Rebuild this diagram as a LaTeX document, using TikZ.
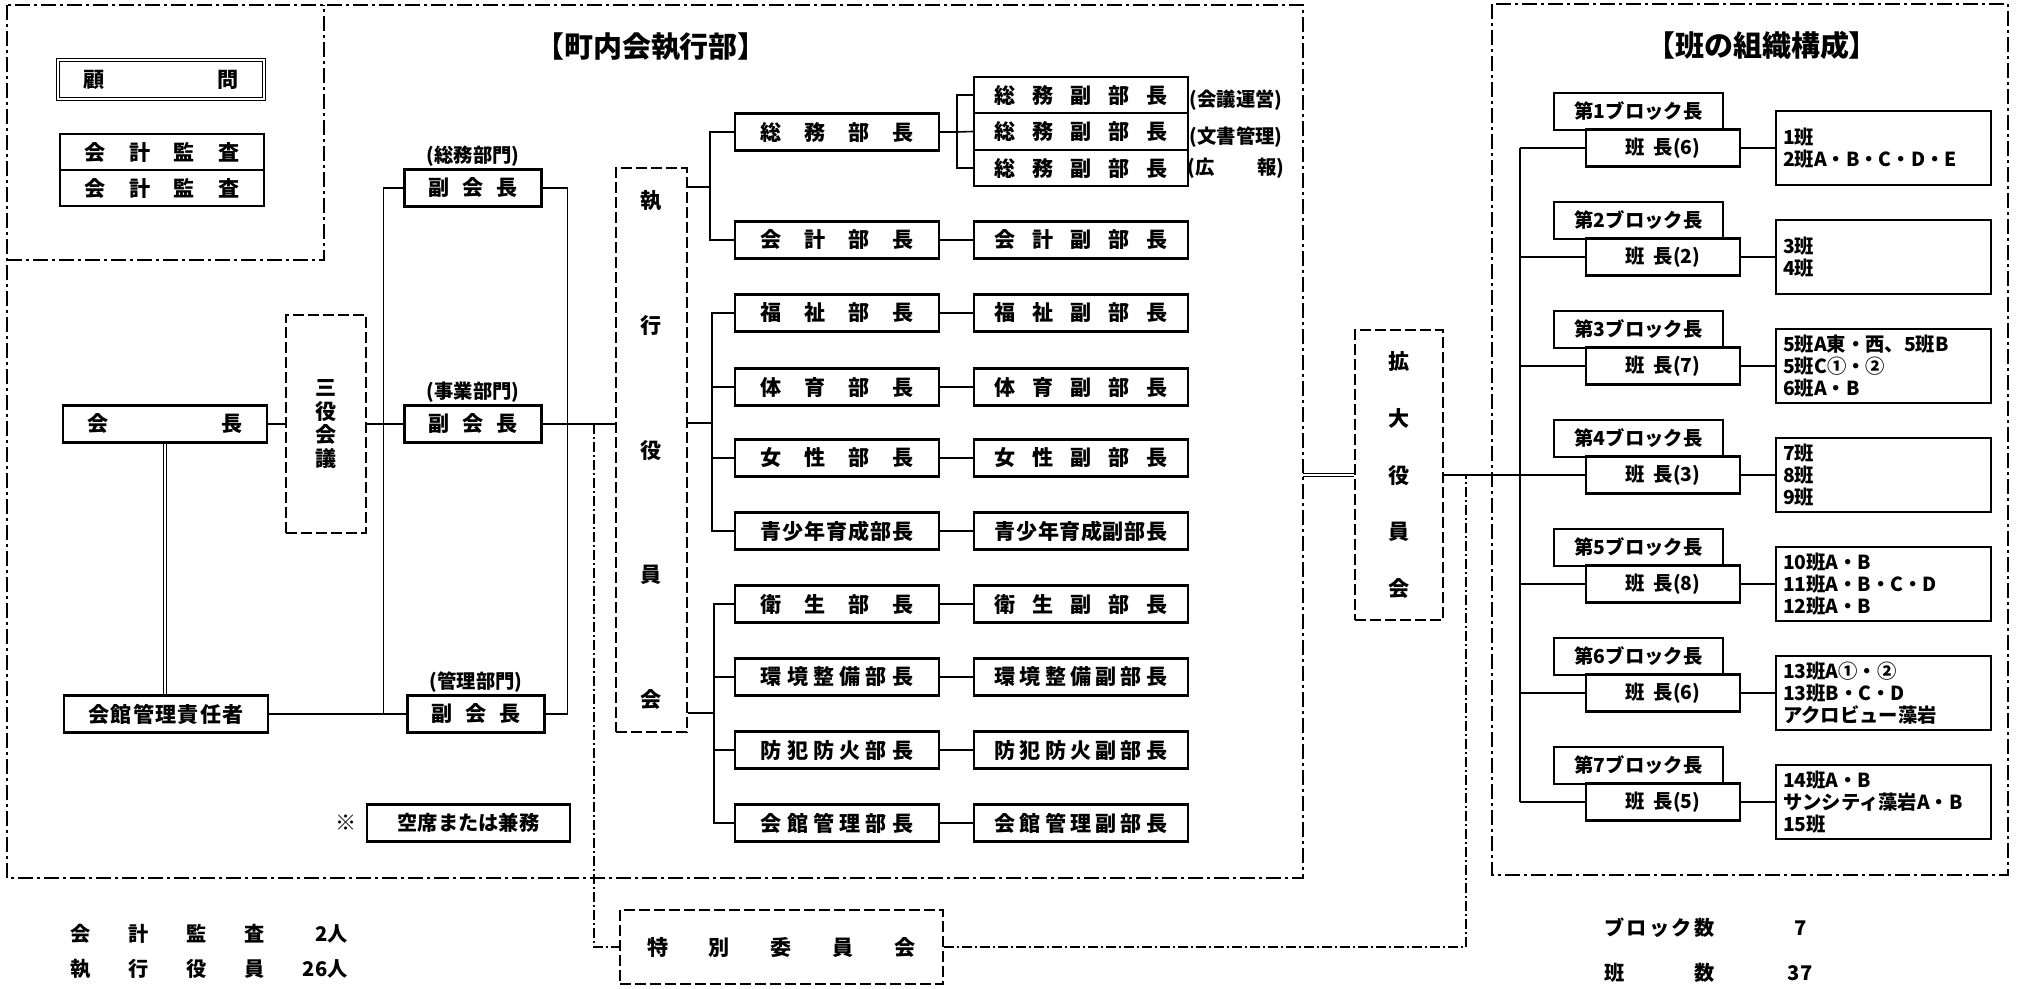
\documentclass[tikz,border=0pt]{standalone}
\usepackage{fontspec}
\setmainfont{Noto Sans CJK JP}
\usetikzlibrary{positioning}

% spread the characters of a text over a given width
\newcommand\sprd[2]{\makebox[#1][s]{\expandafter\sprdfirst#2\relax}}
\def\sprdfirst#1{#1\sprdrest}
\def\sprdrest#1{\ifx\relax#1\else\hfill#1\expandafter\sprdrest\fi}

\begin{document}
\begin{tikzpicture}[x=0.02cm, y=-0.02cm,
    box/.style={draw, line width=1.3pt, inner sep=0pt, minimum height=0.74cm, font=\fontsize{12}{14}\selectfont\bfseries},
    dbox/.style={draw, line width=1.5pt, dash pattern=on 0.22cm off 0.08cm, inner sep=0pt, align=center, font=\fontsize{12}{14}\selectfont\bfseries},
    blkbox/.style={box, font=\fontsize{11}{13}\selectfont\bfseries},
    lbl/.style={inner sep=0pt, font=\fontsize{11}{12}\selectfont\bfseries},
    sumtext/.style={inner sep=0pt, font=\fontsize{11.5}{13}\selectfont\bfseries},
    title/.style={font=\fontsize{16.5}{18}\selectfont\bfseries},
    link/.style={line width=0.9pt},
    twin/.style={double, double distance=1.2pt, line width=0.5pt},
    thinlink/.style={line width=0.6pt, dash pattern=on 0.2cm off 0.06cm on 0.04cm off 0.06cm},
    area/.style={line width=1.1pt, dash pattern=on 0.3cm off 0.08cm on 0.06cm off 0.08cm}]

    \useasboundingbox (0,0) rectangle (2018,989);

    % frames
    \draw[area] (7,5) rectangle (1303,878);
    \draw[area] (7,260) -- (324,260) -- (324,5);
    \draw[area] (1492,4) rectangle (2008,875);
    \node[title] (t-exec) at (651,47) {【町内会執行部】};
    \node[title] (t-han) at (1762,45) {【班の組織構成】};

    % advisers and auditors
    \node[box, double, double distance=1.2pt, line width=0.7pt, minimum width=4.12cm, minimum height=0.78cm] (komon) at (161,79.5) {\sprd{3.12cm}{顧問}};
    \node[box, minimum width=4.08cm, minimum height=0.72cm] (kansa1) at (162,152) {\sprd{3.1cm}{会計監査}};
    \node[box, minimum width=4.08cm, minimum height=0.72cm] (kansa2) at (162,188) {\sprd{3.1cm}{会計監査}};

    % president and vice presidents
    \node[box, minimum width=4.08cm] (kaicho) at (165,424) {\sprd{3.12cm}{会長}};
    \node[box, minimum width=4.08cm] (kanri) at (166,714) {\sprd{3.1cm}{会館管理責任者}};
    \node[dbox, minimum width=1.6cm, minimum height=4.36cm, font=\fontsize{12}{13.4}\selectfont\bfseries] (sanyaku) at (326,424) {三\\役\\会\\議};
    \node[box, minimum width=2.74cm] (vp1) at (473,188) {\sprd{1.8cm}{副会長}};
    \node[box, minimum width=2.74cm] (vp2) at (473,424) {\sprd{1.8cm}{副会長}};
    \node[box, minimum width=2.74cm] (vp3) at (476,714) {\sprd{1.8cm}{副会長}};
    \node[lbl, above=0.03cm of vp1] (vp1-l) {(総務部門)};
    \node[lbl, above=0.03cm of vp2] (vp2-l) {(事業部門)};
    \node[lbl, above=0.03cm of vp3] (vp3-l) {(管理部門)};

    \draw[link] (kaicho.east) -- (sanyaku.west);
    \draw[twin] (kaicho.south) -- (kaicho.south |- kanri.north);
    \draw[link] (sanyaku.east) -- (vp2.west);
    \draw[link] (vp1.west) -- ++(-20,0) |- (vp3.west);
    \draw[link] (kanri.east) -- (vp3.west);
    \draw[link] (vp1.east) -- ++(25,0) |- (vp3.east);

    % executive board
    \node[dbox, minimum width=1.42cm, minimum height=11.28cm, font=\fontsize{12}{71.1}\selectfont\bfseries] (shikko) at (651.5,450) {執\\行\\役\\員\\会};
    \draw[link] (vp2.east) -- (vp2.east -| shikko.west);

    \node[box, minimum width=4.08cm] (somu) at (837,132) {\sprd{3.05cm}{総務部長}};
    \foreach \i/\y in {1/95, 2/131.5, 3/168}
        \node[box, minimum width=4.28cm, minimum height=0.73cm] (somu-sub\i) at (1081,\y) {\sprd{3.45cm}{総務副部長}};
    \node[lbl] (somu-l1) at (1236,100) {(会議運営)};
    \node[lbl] (somu-l2) at (1236,137) {(文書管理)};
    \node[lbl] (somu-l3) at (1236,168) {\makebox[1.94cm][s]{(広\hfill 報)}};
    \draw[link] (somu.east) -- ++(17,0) coordinate (sb);
    \draw[link] (somu-sub1.west) -| (sb) |- (somu-sub3.west);
    \draw[link] (sb) -- (somu-sub2.west);

    \foreach \nm/\y/\ta/\tb in {kaikei/240/会計部長/会計副部長, fukushi/313/福祉部長/福祉副部長,
            taiiku/387/体育部長/体育副部長, josei/458/女性部長/女性副部長,
            seishonen/531/青少年育成部長/青少年育成副部長, eisei/604/衛生部長/衛生副部長,
            kankyo/677/環境整備部長/環境整備副部長, bohan/750/防犯防火部長/防犯防火副部長,
            kaikan/823/会館管理部長/会館管理副部長}{
        \node[box, minimum width=4.08cm] (\nm) at (837,\y) {\sprd{3.05cm}{\ta}};
        \node[box, minimum width=4.28cm] (\nm-sub) at (1081,\y) {\sprd{3.45cm}{\tb}};
        \draw[link] (\nm.east) -- (\nm-sub.west);
    }

    % department groups
    \coordinate (g1) at (710,187);
    \coordinate (g2) at (712,423);
    \coordinate (g3) at (714,713);
    \draw[link] (g1 -| shikko.east) -- (g1);
    \draw[link] (somu.west) -| (g1) |- (kaikei.west);
    \draw[link] (g2 -| shikko.east) -- (g2);
    \draw[link] (fukushi.west) -| (g2) |- (seishonen.west);
    \draw[link] (taiiku.west) -- (taiiku.west -| g2);
    \draw[link] (josei.west) -- (josei.west -| g2);
    \draw[link] (g3 -| shikko.east) -- (g3);
    \draw[link] (eisei.west) -| (g3) |- (kaikan.west);
    \draw[link] (kankyo.west) -- (kankyo.west -| g3);
    \draw[link] (bohan.west) -- (bohan.west -| g3);

    \node[box, minimum width=4.06cm, font=\fontsize{11.5}{13}\selectfont\bfseries] (kuseki) at (468.5,823) {空席または兼務};
    \node[lbl, font=\fontsize{12}{14}\selectfont\bfseries, left=0.17cm of kuseki] (kome) {※};

    % special and extended committees
    \node[dbox, minimum width=6.46cm, minimum height=1.48cm] (tokubetsu) at (781.5,947) {\sprd{5.38cm}{特別委員会}};
    \node[dbox, minimum width=1.76cm, minimum height=5.8cm, font=\fontsize{12}{32.4}\selectfont\bfseries] (kakudai) at (1399,475) {拡\\大\\役\\員\\会};
    \coordinate (exec-e) at (1303,475);
    \draw[twin] (exec-e) -- (kakudai.west);
    \coordinate (tk1) at (594,424);
    \coordinate (tk2) at (1466,475);
    \draw[thinlink] (tk1) |- (tokubetsu.west);
    \draw[thinlink] (tokubetsu.east) -| (tk2);

    % blocks and han
    \coordinate (spine) at (1520,148);
    \foreach \k/\n/\txt in {1/6/{1班\\2班A・B・C・D・E}, 2/2/{3班\\4班},
            3/7/{5班A東・西、5班B\\5班C①・②\\6班A・B}, 4/3/{7班\\8班\\9班},
            5/8/{10班A・B\\11班A・B・C・D\\12班A・B}, 6/6/{13班A①・②\\13班B・C・D\\アクロビュー藻岩},
            7/5/{14班A・B\\サンシティ藻岩A・B\\15班}}{
        \node[blkbox, minimum width=3.38cm] (blk\k) at (1638.5,{111.5+109*(\k-1)}) {第\k ブロック長};
        \node[blkbox, minimum width=3.08cm] (han\k) at (1663,{148+109*(\k-1)}) {班\hspace{0.45em}長(\n)};
        \node[blkbox, minimum height=1.48cm, text width=4.02cm, inner xsep=0.14cm, align=left, font=\fontsize{11}{12.5}\selectfont\bfseries] (res\k) at (1883.5,{148+109*(\k-1)}) {\txt};
        \draw[link] (han\k.east) -- (res\k.west);
        \draw[link] (han\k.west) -- (han\k.west -| spine);
    }
    \draw[link] (spine) -- (spine |- han7.west);
    \draw[link] (kakudai.east) -- (kakudai.east -| spine);

    % totals
    \node[sumtext, anchor=west] (sum1) at (70,934) {\sprd{3.88cm}{会計監査}};
    \node[sumtext, anchor=east] (sum1n) at (348,934) {2人};
    \node[sumtext, anchor=west] (sum2) at (70,969) {\sprd{3.88cm}{執行役員}};
    \node[sumtext, anchor=east] (sum2n) at (348,969) {26人};
    \node[sumtext, anchor=west] (sum3) at (1604,928) {\sprd{2.2cm}{ブロック数}};
    \node[sumtext] (sum3n) at (1801,928) {7};
    \node[sumtext, anchor=west] (sum4) at (1604,973) {\sprd{2.2cm}{班数}};
    \node[sumtext] (sum4n) at (1800,973) {37};
\end{tikzpicture}
\end{document}
